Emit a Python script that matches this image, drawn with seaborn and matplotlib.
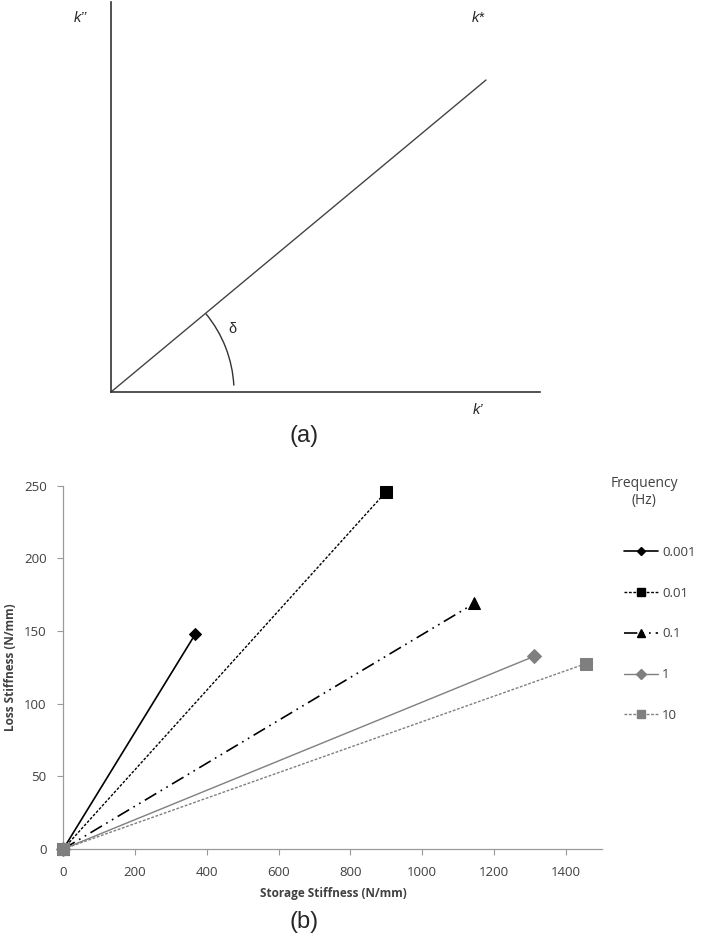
import numpy as np
import pandas as pd
import matplotlib
matplotlib.use('Agg')
import matplotlib.pyplot as plt
import seaborn as sns
from matplotlib.patches import Arc
from matplotlib.lines import Line2D

sns.set_theme(style='white')
plt.rcParams['font.family'] = ['Open Sans', 'DejaVu Sans']

# Painel (b): rigidez de armazenamento x rigidez de perda, por frequência
frequencies = ['0.001', '0.01', '0.1', '1', '10']
storage_end = [368, 900, 1145, 1311, 1455]
loss_end = [148, 246, 169, 132.5, 127.5]

# Painel (a): esquema do vetor k* (unidades em pixels do desenho)
phasor_x = [0, 375]
phasor_y = [0, 312]

rows = []
for f, s, l in zip(frequencies, storage_end, loss_end):
    rows.append([f, 0, 0])
    rows.append([f, s, l])
df = pd.DataFrame(rows, columns=['frequency', 'storage', 'loss'])

styles = {
    '0.001': dict(color='black', ls='-', marker='D', ms=6, lw=1.2),
    '0.01': dict(color='black', ls=(0, (2, 1.2)), marker='s', ms=9, lw=1.0),
    '0.1': dict(color='black', ls=(0, (8, 3, 1, 3, 1, 3)), marker='^', ms=9, lw=1.2),
    '1': dict(color='#7f7f7f', ls='-', marker='D', ms=7, lw=1.0),
    '10': dict(color='#7f7f7f', ls=(0, (2, 1.2)), marker='s', ms=8.5, lw=1.0),
}

W, H = 701, 942
fig = plt.figure(figsize=(W / 100, H / 100), dpi=100)

def fx(px):
    return px / W

def fy(py):
    return 1 - py / H

# ---------- painel (a) ----------
ax_a = fig.add_axes([fx(111), fy(392), fx(540 - 111), (392 - 2) / H])
ax_a.set_xlim(0, 429)
ax_a.set_ylim(0, 390)
sns.lineplot(x=phasor_x, y=phasor_y, ax=ax_a, color='#444444', lw=1.0)
ax_a.add_patch(Arc((0, 0), 246, 246, theta1=3, theta2=39.5, color='#333333', lw=1.0))
for side in ['top', 'right']:
    ax_a.spines[side].set_visible(False)
for side in ['left', 'bottom']:
    ax_a.spines[side].set_color('#333333')
    ax_a.spines[side].set_linewidth(1.2)
ax_a.set_xticks([])
ax_a.set_yticks([])

fig.text(fx(80), fy(18), "k\u2019\u2019", style='italic', fontsize=10.5, ha='center', va='center', family='Liberation Sans')
fig.text(fx(478), fy(18), "k*", style='italic', fontsize=10.5, ha='center', va='center', family='Liberation Sans')
fig.text(fx(478), fy(410), "k\u2019", style='italic', fontsize=10.5, ha='center', va='center', family='Liberation Sans')
fig.text(fx(232), fy(329), "\u03b4", fontsize=10.5, ha='center', va='center', family='Liberation Sans')
fig.text(fx(304), fy(436), "(a)", fontsize=17, ha='center', va='center', family='Liberation Sans')

# ---------- painel (b) ----------
ax_b = fig.add_axes([fx(63.3), fy(849), fx(601.7 - 63.3), (849 - 485.7) / H])
handles = []
for f in frequencies:
    st = styles[f]
    sub = df[df['frequency'] == f]
    sns.lineplot(data=sub, x='storage', y='loss', ax=ax_b, sort=False, estimator=None,
                 color=st['color'], linestyle=st['ls'], lw=st['lw'],
                 marker=st['marker'], markersize=st['ms'], clip_on=False, zorder=3,
                 markeredgecolor=st['color'], markerfacecolor=st['color'])
    handles.append(Line2D([0], [0], color=st['color'], linestyle=st['ls'], lw=st['lw'],
                          marker=st['marker'], markersize=st['ms'] * 0.7,
                          markeredgecolor=st['color'], markerfacecolor=st['color'], label=f))

ax_b.set_xlim(0, 1500)
ax_b.set_ylim(0, 250)
ax_b.set_xticks(np.arange(0, 1401, 200))
ax_b.set_yticks(np.arange(0, 251, 50))
for side in ['top', 'right']:
    ax_b.spines[side].set_visible(False)
for side in ['left', 'bottom']:
    ax_b.spines[side].set_color('#9a9a9a')
    ax_b.spines[side].set_linewidth(0.9)
ax_b.tick_params(axis='both', direction='out', length=4, width=0.8, color='#9a9a9a',
                 labelsize=9.5, labelcolor='#404040', pad=8, bottom=True, left=True)
ax_b.set_xlabel('')
ax_b.set_ylabel('')
fig.text(fx(333), fy(894), 'Storage Stiffness (N/mm)', fontsize=8.5, fontweight='bold',
         color='#404040', ha='center', va='center')
fig.text(fx(11), fy(667), 'Loss Stiffness (N/mm)', fontsize=8.5, fontweight='bold',
         color='#404040', ha='center', va='center', rotation=90)

fig.text(fx(644), fy(492), 'Frequency\n(Hz)', fontsize=10, color='#404040',
         ha='center', va='center', linespacing=1.15)
fig.legend(handles=handles, loc='upper left', bbox_to_anchor=(fx(624), fy(546)),
           frameon=False, fontsize=9.5, labelcolor='#404040', handlelength=2.6,
           handletextpad=0.3, labelspacing=2.1, borderpad=0, borderaxespad=0)

fig.text(fx(304), fy(922), '(b)', fontsize=17, ha='center', va='center', family='Liberation Sans')

fig.savefig('out.png', dpi=100, facecolor='white')
